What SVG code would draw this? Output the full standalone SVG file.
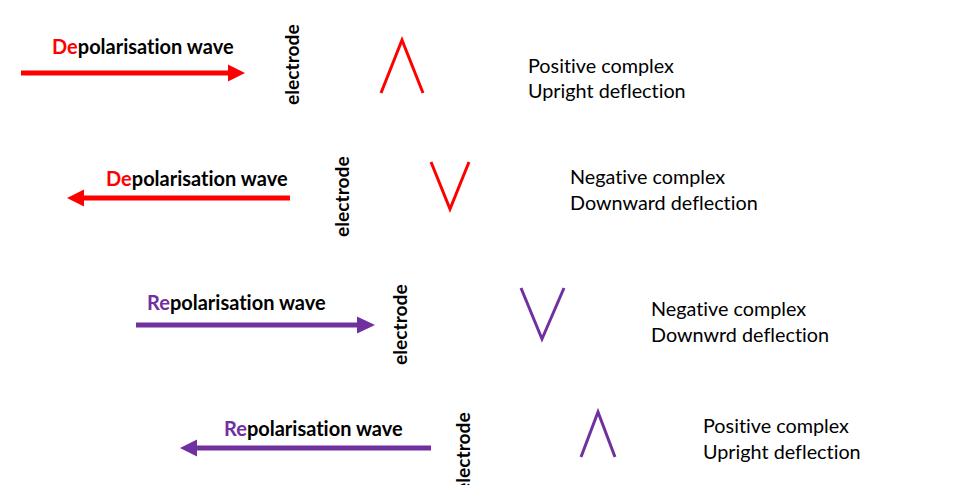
<svg xmlns="http://www.w3.org/2000/svg" width="974" height="485" viewBox="0 0 974 485">
<style>
text{font-variant-ligatures:none;font-feature-settings:"liga" 0}
.t{font-family:Lato,"Liberation Sans",sans-serif;font-weight:bold;font-size:20px;fill:#000}
.e{font-family:Lato,"Liberation Sans",sans-serif;font-weight:bold;font-size:19.2px;fill:#000}
.l{font-family:Lato,"Liberation Sans",sans-serif;font-size:19.8px;fill:#000}
.red{fill:#FF0000}
.pur{fill:#7030A0}
.sr{fill:none;stroke:#FF0000;stroke-width:3}
.sp{fill:none;stroke:#7030A0;stroke-width:3}
</style>
<rect width="974" height="485" fill="#fff"/>
<g id="connectors">
<path d="M21,70.5 L228,70.5 L228,64.5 L245,73 L228,81.5 L228,75.5 L21,75.5 Z" class="red"/>
<path d="M290,195.5 L84,195.5 L84,189.5 L67,198 L84,206.5 L84,200.5 L290,200.5 Z" class="red"/>
<path d="M136,322.5 L357,322.5 L357,316.5 L375,325 L357,333.5 L357,327.5 L136,327.5 Z" class="pur"/>
<path d="M431,445.5 L197,445.5 L197,439.5 L180,448 L197,456.5 L197,450.5 L431,450.5 Z" class="pur"/>
</g>
<g id="row1">
<text id="title1" class="t" x="52" y="54"><tspan class="red">De</tspan>polarisation wave</text>
<text id="electrode1" class="e" transform="translate(299,105) rotate(-90)">electrode</text>
<polyline id="wave1" class="sr" points="381,93 402,40 423,93"/>
<g id="label1"><text class="l" x="528" y="73">Positive complex</text><text class="l" x="528" y="98">Upright deflection</text></g>
</g>
<g id="row2">
<text id="title2" class="t" x="106" y="186"><tspan class="red">De</tspan>polarisation wave</text>
<text id="electrode2" class="e" transform="translate(349,237) rotate(-90)">electrode</text>
<polyline id="wave2" class="sr" points="431,162 450,209 469,162"/>
<g id="label2"><text class="l" x="570" y="184">Negative complex</text><text class="l" x="570" y="210">Downward deflection</text></g>
</g>
<g id="row3">
<text id="title3" class="t" x="147" y="310"><tspan class="pur">Re</tspan>polarisation wave</text>
<text id="electrode3" class="e" transform="translate(407,365) rotate(-90)">electrode</text>
<polyline id="wave3" class="sp" points="521,288 542,339 564,288"/>
<g id="label3"><text class="l" x="651" y="316">Negative complex</text><text class="l" x="651" y="342">Downwrd deflection</text></g>
</g>
<g id="row4">
<text id="title4" class="t" x="224" y="436"><tspan class="pur">Re</tspan>polarisation wave</text>
<text id="electrode4" class="e" transform="translate(470,493) rotate(-90)">electrode</text>
<polyline id="wave4" class="sp" points="581,457 598,412 615,457"/>
<g id="label4"><text class="l" x="703" y="433">Positive complex</text><text class="l" x="703" y="459">Upright deflection</text></g>
</g>
</svg>
